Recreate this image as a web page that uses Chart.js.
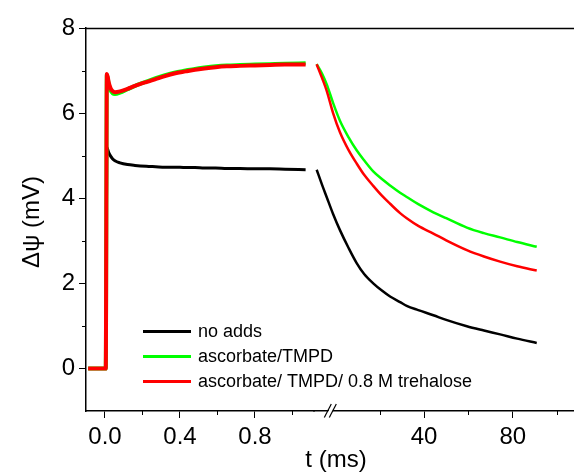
<!DOCTYPE html>
<html><head><meta charset="utf-8">
<script src="https://cdn.jsdelivr.net/npm/chart.js@4.4.1/dist/chart.umd.min.js"></script>
<style>html,body{margin:0;padding:0;background:#fff;overflow:hidden}#wrap{width:574px;height:472px;position:relative}</style>
</head><body><div id="wrap"><canvas id="c" width="574" height="472"></canvas></div>
<script>
// ---- data ----
const seriesNames = ['no adds', 'ascorbate/TMPD', 'ascorbate/ TMPD/ 0.8 M trehalose'];
const seriesColors = ['#000000', '#00ff00', '#ff0000'];

// early segment, t in ms (left part of the broken axis)
const tEarly = [-0.09, 0.004, 0.01, 0.02, 0.03, 0.04, 0.053, 0.08, 0.12, 0.16, 0.22, 0.27, 0.32, 0.37, 0.43, 0.48, 0.53, 0.59, 0.65, 0.72, 0.8, 0.88, 0.96, 1.07];
const noAddsEarly = [0, 0, 5.19, 5.07, 4.99, 4.93, 4.88, 4.83, 4.79, 4.77, 4.75, 4.74, 4.73, 4.73, 4.72, 4.72, 4.71, 4.71, 4.70, 4.70, 4.69, 4.69, 4.68, 4.67];
const ascEarly = [0, 0, 6.90, 6.68, 6.53, 6.47, 6.45, 6.48, 6.56, 6.64, 6.74, 6.82, 6.89, 6.95, 7.00, 7.04, 7.07, 7.10, 7.12, 7.13, 7.14, 7.15, 7.16, 7.17];
const treEarly = [0, 0, 6.92, 6.72, 6.58, 6.52, 6.49, 6.51, 6.57, 6.64, 6.73, 6.80, 6.87, 6.93, 6.98, 7.02, 7.05, 7.08, 7.10, 7.11, 7.12, 7.13, 7.14, 7.14];

// late segment, t in ms (right part of the broken axis)
const tLate = [-8.4, -6, -3.9, -1, 2.1, 6, 9.7, 13, 17.1, 21, 24.7, 29.2, 32.2, 37.4, 44.2, 50, 59.3, 67, 74.3, 82, 90.8];
const noAddsLate = [4.67, 4.32, 4.03, 3.63, 3.25, 2.83, 2.47, 2.22, 2.00, 1.83, 1.69, 1.56, 1.47, 1.37, 1.25, 1.14, 0.99, 0.89, 0.80, 0.70, 0.60];
const ascLate = [7.15, 6.93, 6.68, 6.24, 5.82, 5.43, 5.12, 4.89, 4.63, 4.45, 4.30, 4.13, 4.03, 3.86, 3.67, 3.53, 3.31, 3.18, 3.08, 2.97, 2.86];
const treLate = [7.15, 6.83, 6.53, 6.00, 5.55, 5.13, 4.81, 4.55, 4.29, 4.06, 3.87, 3.65, 3.53, 3.35, 3.17, 3.01, 2.78, 2.63, 2.51, 2.40, 2.30];

// ticks
const xMajor = [0, 0.4, 0.8];
const xMinor = [0.2, 0.6, 1.0];
const x2Major = [40, 80];
const x2Minor = [20, 60, 100];
const yMajor = [0, 2, 4, 6, 8];
const yMinor = [1, 3, 5, 7];

const xTitle = 't (ms)';
const yTitle = 'Δψ (mV)';

// ---- chart ----
const FONT = "'Liberation Sans', Arial, sans-serif";
const earlyVals = [noAddsEarly, ascEarly, treEarly];
const lateVals = [noAddsLate, ascLate, treLate];
const earlyWidths = [3, 4, 4];
function pts(xs, ys) { return xs.map((x, i) => ({x: x, y: ys[i]})); }

const datasets = [];
seriesNames.forEach((name, i) => {
  const common = {
    label: name, borderColor: seriesColors[i], backgroundColor: seriesColors[i],
    pointRadius: 0, fill: false, cubicInterpolationMode: 'monotone', order: 2 - i, yAxisID: 'y'
  };
  datasets.push(Object.assign({}, common, {data: pts(tEarly, earlyVals[i]), xAxisID: 'x', borderWidth: earlyWidths[i]}));
  datasets.push(Object.assign({}, common, {data: pts(tLate, lateVals[i]), xAxisID: 'x2', borderWidth: 2.5}));
});

const tickFont = {family: FONT, size: 24};
const gridOpts = {display: true, drawOnChartArea: false, drawTicks: true, tickLength: 7, color: '#000', lineWidth: 1};

const deco = {
  id: 'deco',
  afterDraw(chart) {
    const c = chart.ctx, a = chart.chartArea;
    const sx = chart.scales.x, sx2 = chart.scales.x2, sy = chart.scales.y;
    c.save();
    c.strokeStyle = '#000';
    c.lineWidth = 1.5;
    c.beginPath(); c.moveTo(a.left, a.top + 0.5); c.lineTo(a.right, a.top + 0.5); c.stroke();
    c.lineWidth = 1;
    const mt = 4;
    yMinor.forEach(v => {
      const p = Math.round(sy.getPixelForValue(v)) + 0.5;
      c.beginPath(); c.moveTo(a.left - mt, p); c.lineTo(a.left, p); c.stroke();
    });
    const bx = (s, v) => {
      const p = Math.round(s.getPixelForValue(v)) + 0.5;
      c.beginPath(); c.moveTo(p, a.bottom); c.lineTo(p, a.bottom + mt); c.stroke();
    };
    xMinor.forEach(v => bx(sx, v));
    x2Minor.forEach(v => bx(sx2, v));
    // axis break marks
    const bp = sx2.getPixelForValue(-1.8);
    const yb = a.bottom;
    c.fillStyle = '#fff';
    c.beginPath();
    c.moveTo(bp - 6, yb + 6); c.lineTo(bp + 1, yb - 7); c.lineTo(bp + 5, yb - 7); c.lineTo(bp - 2, yb + 6); c.closePath(); c.fill();
    c.lineWidth = 1.2;
    c.beginPath(); c.moveTo(bp - 7, yb + 6.5); c.lineTo(bp, yb - 7); c.stroke();
    c.beginPath(); c.moveTo(bp - 2, yb + 6.5); c.lineTo(bp + 5, yb - 7); c.stroke();
    // axis titles
    c.fillStyle = '#000';
    c.font = '24px ' + FONT;
    c.textAlign = 'center'; c.textBaseline = 'middle';
    c.fillText(xTitle, 336, 460);
    c.save();
    c.translate(32, 222); c.rotate(-Math.PI / 2);
    c.fillText(yTitle, 0, 0);
    c.restore();
    // legend
    c.font = '18px ' + FONT;
    c.textAlign = 'left';
    const rows = [0, 1, 2];
    rows.forEach(i => {
      const y = 331.5 + i * 25;
      c.strokeStyle = seriesColors[i]; c.lineWidth = 3;
      c.beginPath(); c.moveTo(143, y); c.lineTo(191, y); c.stroke();
      c.fillStyle = '#000';
      c.fillText(seriesNames[i], 198, y + 1);
    });
    c.restore();
  }
};

new Chart(document.getElementById('c'), {
  type: 'line',
  data: {datasets: datasets},
  options: {
    responsive: false, animation: false, devicePixelRatio: 1,
    layout: {padding: {top: 28, right: 0, left: 0, bottom: 0}},
    plugins: {legend: {display: false}, tooltip: {enabled: false}},
    scales: {
      x: {
        type: 'linear', position: 'bottom', stack: 'xs', stackWeight: 228,
        min: -0.1013, max: 1.1147,
        afterBuildTicks: s => { s.ticks = xMajor.map(v => ({value: v})); },
        afterFit: s => { s.height = 61; s.paddingLeft = 0; s.paddingRight = 0; },
        ticks: {autoSkip: false, maxRotation: 0, color: '#000', font: tickFont, padding: 5, callback: v => v.toFixed(1)},
        grid: gridOpts, border: {display: true, color: '#000', width: 1.5}
      },
      x2: {
        type: 'linear', position: 'bottom', stack: 'xs', stackWeight: 260,
        min: -9.6, max: 107.6,
        afterBuildTicks: s => { s.ticks = x2Major.map(v => ({value: v})); },
        afterFit: s => { s.height = 61; s.paddingLeft = 0; s.paddingRight = 0; },
        ticks: {autoSkip: false, maxRotation: 0, color: '#000', font: tickFont, padding: 5, callback: v => String(v)},
        grid: gridOpts, border: {display: true, color: '#000', width: 1.5}
      },
      y: {
        type: 'linear', position: 'left', min: -1, max: 8,
        afterBuildTicks: s => { s.ticks = yMajor.map(v => ({value: v})); },
        afterFit: s => { s.width = 86; s.paddingTop = 0; s.paddingBottom = 0; },
        ticks: {color: '#000', font: tickFont, padding: 4, callback: v => String(v)},
        grid: gridOpts, border: {display: true, color: '#000', width: 1.5}
      }
    }
  },
  plugins: [deco]
});
</script>
</body></html>
